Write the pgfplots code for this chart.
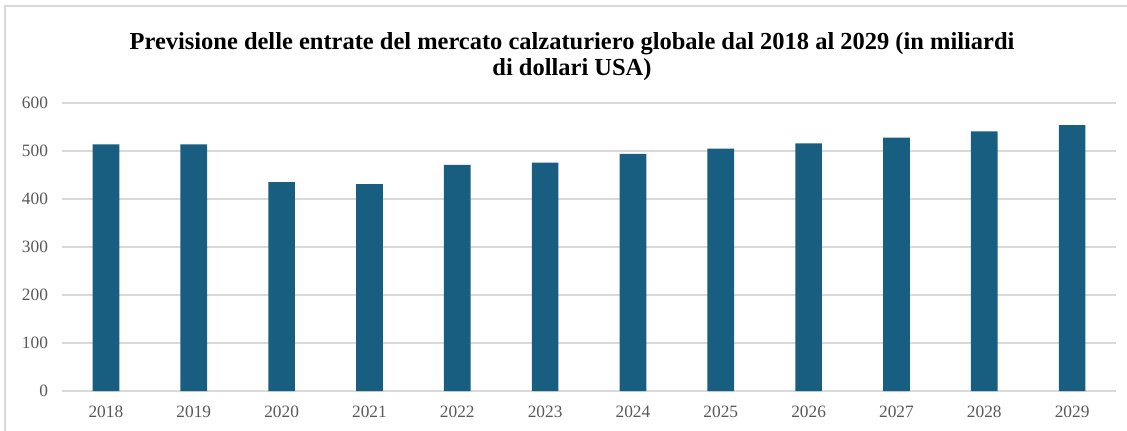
\documentclass[border=0pt]{standalone}
\usepackage{pgfplots}
\pgfplotsset{compat=1.18}
\usepackage{fontspec}
\setmainfont{Liberation Serif}
\definecolor{barc}{RGB}{23,94,128}
\definecolor{gridc}{RGB}{217,217,217}
\definecolor{tickc}{RGB}{89,89,89}
\begin{document}
\begin{tikzpicture}
\useasboundingbox (0pt,0pt) rectangle (845.25pt,322.5pt);
\draw[gridc,line width=0.9pt] (3.75pt,-15pt) -- (3.75pt,318pt) -- (860pt,318pt);
\node[font=\bfseries\fontsize{18.35}{19}\selectfont,align=center,anchor=center] at (429pt,280pt) {Previsione delle entrate del mercato calzaturiero globale dal 2018 al 2029 (in miliardi\\di dollari USA)};
\begin{axis}[
  at={(46.5pt,29.25pt)}, anchor=south west,
  scale only axis, width=790.5pt, height=216pt,
  xmin=-0.5, xmax=11.5, ymin=0, ymax=600,
  ytick={0,100,...,600},
  xtick={0,...,11},
  xticklabels={2018,2019,2020,2021,2022,2023,2024,2025,2026,2027,2028,2029},
  axis line style={draw=none},
  major tick length=0pt,
  ymajorgrids, grid style={gridc,line width=0.8pt},
  tick label style={font=\fontsize{13}{15}\selectfont, text=tickc},
  /pgf/number format/assume math mode=true,
  yticklabel style={xshift=-7pt},
  xticklabel style={yshift=-7.5pt},
  ybar, bar width=20pt,
]
\addplot[fill=barc, draw=none] coordinates {
(0,514) (1,514) (2,435) (3,431) (4,471) (5,476) (6,494) (7,505) (8,516) (9,528) (10,541) (11,554)};
\end{axis}
\end{tikzpicture}
\end{document}
